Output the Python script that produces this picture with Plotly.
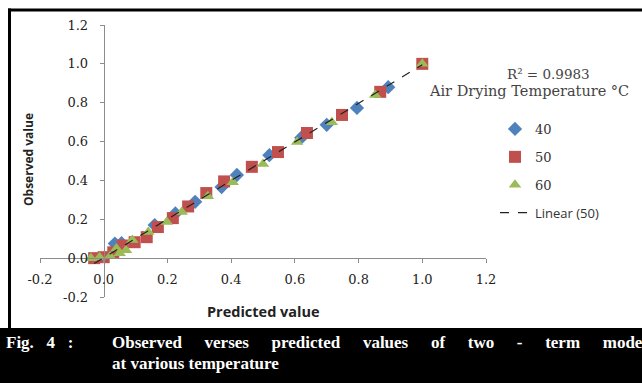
import numpy as np
import plotly.graph_objects as go

# ---- data ----
pred_40 = [0.035, 0.056, 0.16, 0.225, 0.287, 0.37, 0.418, 0.52, 0.62, 0.70, 0.795, 0.893]
obs_40 = [0.075, 0.077, 0.17, 0.23, 0.29, 0.366, 0.428, 0.53, 0.62, 0.686, 0.773, 0.88]

pred_50 = [-0.03, 0.0, 0.03, 0.06, 0.097, 0.135, 0.17, 0.217, 0.265, 0.322, 0.378, 0.465, 0.547, 0.638, 0.748, 0.868, 1.0]
obs_50 = [0.0, 0.005, 0.03, 0.065, 0.082, 0.108, 0.16, 0.206, 0.266, 0.335, 0.395, 0.47, 0.546, 0.644, 0.737, 0.856, 1.0]

pred_60 = [-0.04, -0.013, 0.02, 0.04, 0.05, 0.07, 0.09, 0.14, 0.198, 0.245, 0.327, 0.405, 0.5, 0.607, 0.716, 0.852, 1.0]
obs_60 = [0.0, 0.005, 0.01, 0.05, 0.025, 0.04, 0.093, 0.134, 0.186, 0.237, 0.318, 0.39, 0.485, 0.598, 0.70, 0.84, 1.0]

series_names = ["40", "50", "60"]
trend_name = "Linear (50)"
r2_text = "R² = 0.9983"
legend_title = "Air Drying Temperature °C"
x_title = "Predicted value"
y_title = "Observed value"
tick_vals = [-0.2, 0.0, 0.2, 0.4, 0.6, 0.8, 1.0, 1.2]
tick_text = ["-0.2", "0.0", "0.2", "0.4", "0.6", "0.8", "1.0", "1.2"]
caption_label = ["Fig.", "4", ":"]
caption_line1 = ["Observed", "verses", "predicted", "values", "of", "two", "-", "term", "model"]
caption_line2 = "at various temperature"

# ---- layout geometry (pixels) ----
W, H = 642, 383
L, R, T, B = 40, 156, 25, 86
PW, PH = W - L - R, H - T - B


def px_x(px):
    return (px - L) / PW


def px_y(py):
    return (H - B - py) / PH


# linear trendline for the 50 series
slope, inter = np.polyfit(pred_50, obs_50, 1)
tx = np.array([min(pred_50), max(pred_50)])
ty = slope * tx + inter

fig = go.Figure()
fig.add_trace(go.Scatter(x=pred_40, y=obs_40, mode="markers", name=series_names[0],
                         legendgroup="a",
                         marker=dict(symbol="diamond", size=11, color="#4F81BD")))
fig.add_trace(go.Scatter(x=pred_50, y=obs_50, mode="markers", name=series_names[1],
                         legendgroup="b",
                         marker=dict(symbol="square", size=12, color="#C0504D")))
fig.add_trace(go.Scatter(x=pred_60, y=obs_60, mode="markers", name=series_names[2],
                         legendgroup="c",
                         marker=dict(symbol="triangle-up", size=11, color="#9BBB59")))
fig.add_trace(go.Scatter(x=tx, y=ty, mode="lines",
                         name='<span style="font-family:Open Sans">' + trend_name + "</span>",
                         legendgroup="d",
                         line=dict(color="#222222", width=1.2, dash="dash")))

axis_common = dict(
    tickvals=tick_vals, ticktext=tick_text, showgrid=False, zeroline=False,
    showline=True, linecolor="#8c8c8c", linewidth=1, ticks="outside", ticklen=4,
    tickcolor="#8c8c8c", tickfont=dict(family="DejaVu Serif", size=13, color="#222222"),
    anchor="free", position=0.2 / 1.4, fixedrange=True,
)

fig.update_layout(
    width=W, height=H,
    margin=dict(l=L, r=R, t=T, b=B, autoexpand=False),
    paper_bgcolor="white", plot_bgcolor="white",
    xaxis=dict(range=[-0.2, 1.2], ticklabelstandoff=5, **axis_common),
    yaxis=dict(range=[-0.2, 1.2], ticklabelstandoff=9, **axis_common),
    showlegend=True,
    legend=dict(x=px_x(495), y=px_y(114), xanchor="left", yanchor="top",
                font=dict(family="DejaVu Serif", size=13, color="#333333"),
                tracegroupgap=8, traceorder="grouped", bgcolor="rgba(0,0,0,0)"),
)

shapes = [
    # black caption band
    dict(type="rect", xref="paper", yref="paper", x0=px_x(-5), x1=px_x(W + 5),
         y0=px_y(H + 5), y1=px_y(328), fillcolor="black", line=dict(width=0), layer="below"),
    # frame top line
    dict(type="line", xref="paper", yref="paper", x0=px_x(8), x1=px_x(W + 5),
         y0=px_y(10), y1=px_y(10), line=dict(color="black", width=3)),
    # frame left line
    dict(type="line", xref="paper", yref="paper", x0=px_x(9.5), x1=px_x(9.5),
         y0=px_y(8.5), y1=px_y(330), line=dict(color="black", width=3)),
]
fig.update_layout(shapes=shapes)

gap = " " + "\u00a0" * 4 + "\u200a"
cap1 = gap.join(caption_line1)
cap0 = (" " + "\u00a0" * 2).join(caption_label)


def ann(text, x, y, xa, size, family, color, angle=0):
    return dict(text=text, x=px_x(x), y=px_y(y), xref="paper", yref="paper",
                xanchor=xa, yanchor="middle", showarrow=False, textangle=angle,
                font=dict(family=family, size=size, color=color))


annotations = [
    ann(f"<b>{x_title}</b>", 263, 311, "center", 14.5, "Open Sans", "#222222"),
    ann(f"<b>{y_title}</b>", 28, 160, "center", 12, "Open Sans", "#222222", -90),
    ann(r2_text, 505, 74, "left", 13.5, "DejaVu Serif", "#444444"),
    ann(legend_title, 427, 91, "left", 14.5, "DejaVu Serif", "#444444"),
    ann(f"<b>{cap0}</b>", 4, 342, "left", 17, "Liberation Serif", "white"),
    ann(f"<b>{cap1}</b>", 110, 342, "left", 17, "Liberation Serif", "white"),
    ann(f"<b>{caption_line2}</b>", 110, 363, "left", 17, "Liberation Serif", "white"),
]
fig.update_layout(annotations=annotations)

fig.write_html("out.html", config={"displayModeBar": False},
               post_script="document.body.style.margin='0';document.body.style.overflow='hidden';")
